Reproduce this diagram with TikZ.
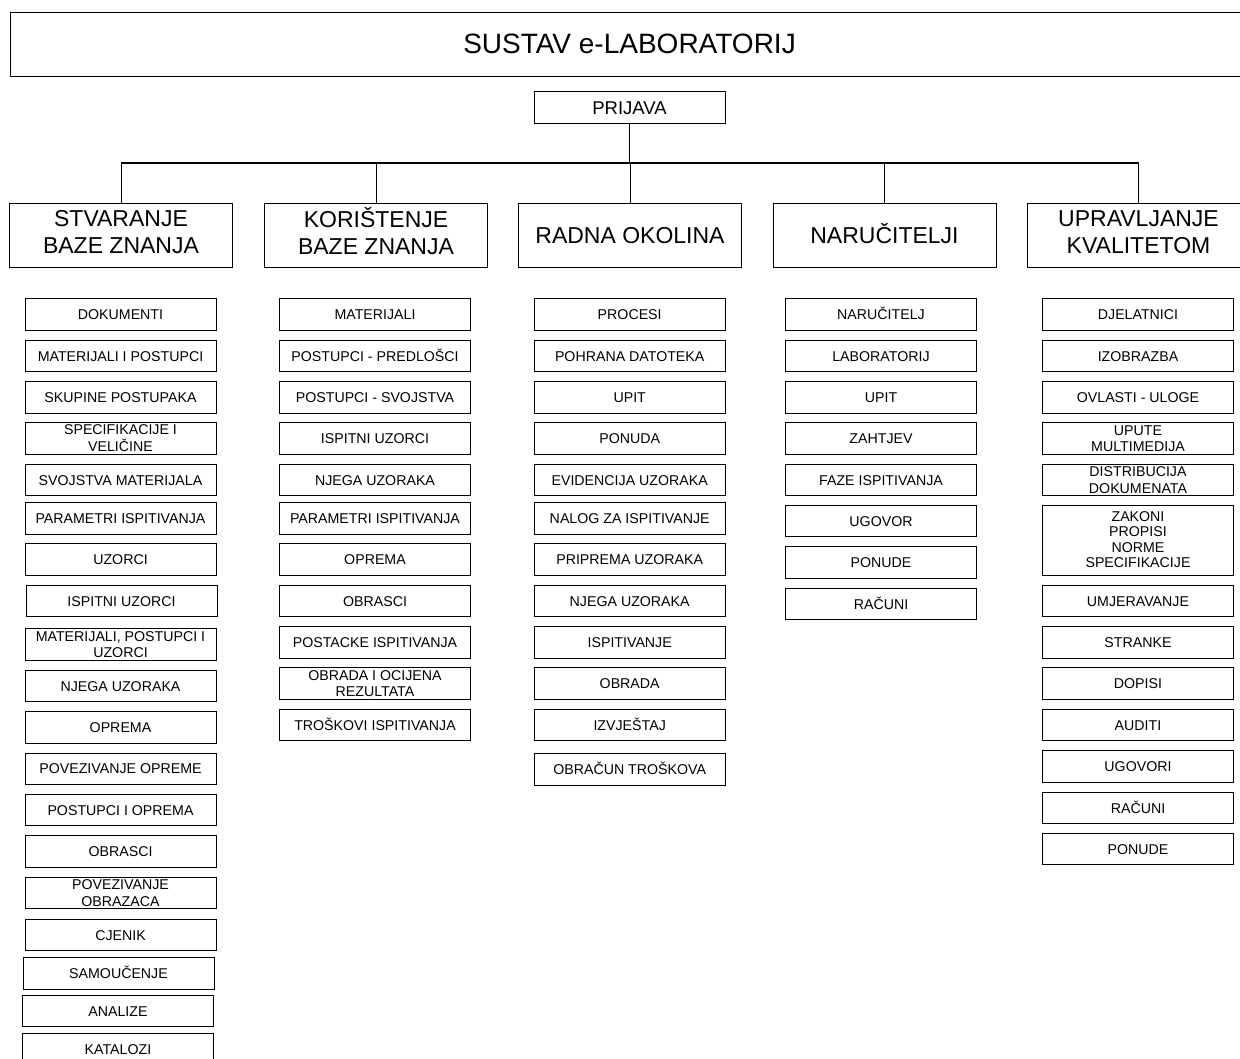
\documentclass[tikz,border=0pt]{standalone}
\usepackage{fontspec}
\setmainfont{Liberation Sans}

\newcommand{\dva}[2]{\begin{tabular}{@{}c@{}}#1\\#2\end{tabular}}

\tikzset{
  item/.style={draw, line width=0.8pt, minimum width=191pt, minimum height=31.5pt,
    inner sep=0pt, text height=10.2pt, text depth=0pt,
    font=\fontsize{14.2}{16.5}\selectfont},
  head/.style={draw, line width=0.8pt, minimum width=223pt, minimum height=64pt,
    inner sep=0pt, text height=16.5pt, text depth=0pt,
    font=\fontsize{23}{27}\selectfont},
  twohead/.style={head, text depth=4.5pt},
  link/.style={line width=0.8pt},
  bar/.style={line width=1.3pt},
  trunk/.style={line width=1.8pt},
}

\begin{document}
\begin{tikzpicture}[x=1pt, y=-1pt]
  \useasboundingbox (0,0) rectangle (1240,1059);

  % Title and login
  \node[draw, line width=0.8pt, minimum width=1239pt, minimum height=64pt, inner sep=0pt,
    font=\fontsize{28}{32}\selectfont] (title) at (629.5,44) {SUSTAV e-LABORATORIJ};
  \node[item, text height=13.3pt, font=\fontsize{18.5}{21}\selectfont] (prijava)
    at (629.5,107.5) {PRIJAVA};

  % Main modules
  \node[twohead] (h1) at (121,235) {\dva{STVARANJE}{BAZE ZNANJA}};
  \node[twohead] (h2) at (376,235) {\dva{KORIŠTENJE}{BAZE ZNANJA}};
  \node[head] (h3) at (630,235) {RADNA OKOLINA};
  \node[head] (h4) at (884.5,235) {NARUČITELJI};
  \node[twohead] (h5) at (1138.5,235) {\dva{UPRAVLJANJE}{KVALITETOM}};

  % Connectors
  \coordinate (bus) at (629.5,163);
  \draw[trunk] (prijava.south) -- (bus);
  \draw[bar] (h1.north |- bus) -- (h5.north |- bus);
  \foreach \i in {1,...,5}
    \draw[link] (h\i.north) -- (h\i.north |- bus);

  % Stvaranje baze znanja
  \foreach \x/\y/\t [count=\i] in {
      120.5/314.5/DOKUMENTI, 120.5/356/MATERIJALI I POSTUPCI,
      120.5/397.5/SKUPINE POSTUPAKA, 120.5/438.5/\dva{SPECIFIKACIJE I}{VELIČINE},
      120.5/480/SVOJSTVA MATERIJALA, 120.5/518.3/PARAMETRI ISPITIVANJA,
      120.5/559.5/UZORCI, 121.5/601/ISPITNI UZORCI,
      120.5/644.5/{\dva{MATERIJALI, POSTUPCI I}{UZORCI}}, 120.5/686/NJEGA UZORAKA,
      120.5/727.5/OPREMA, 120.5/768.7/POVEZIVANJE OPREME,
      120.5/810/POSTUPCI I OPREMA, 120.5/851.5/OBRASCI,
      120.5/893/\dva{POVEZIVANJE}{OBRAZACA}, 120.5/935/CJENIK,
      118.5/973.5/SAMOUČENJE, 118/1011/ANALIZE, 118/1049/KATALOZI}
    \node[item] (s\i) at (\x,\y) {\t};

  % Korištenje baze znanja
  \foreach \y/\t [count=\i] in {
      314.5/MATERIJALI, 356/POSTUPCI - PREDLOŠCI, 397.5/POSTUPCI - SVOJSTVA,
      438.5/ISPITNI UZORCI, 480/NJEGA UZORAKA, 518.3/PARAMETRI ISPITIVANJA,
      559.5/OPREMA, 601/OBRASCI, 642.5/POSTACKE ISPITIVANJA,
      683.5/\dva{OBRADA I OCIJENA}{REZULTATA}, 725/TROŠKOVI ISPITIVANJA}
    \node[item] (k\i) at (375,\y) {\t};

  % Radna okolina
  \foreach \y/\t [count=\i] in {
      314.5/PROCESI, 356/POHRANA DATOTEKA, 397.5/UPIT / ZAHTJEV,
      438.5/PONUDA, 480/EVIDENCIJA UZORAKA, 518.3/NALOG ZA ISPITIVANJE,
      559.5/PRIPREMA UZORAKA, 601/NJEGA UZORAKA, 642.5/ISPITIVANJE,
      683.5/OBRADA, 725/IZVJEŠTAJ, 769.5/OBRAČUN TROŠKOVA}
    \node[item] (r\i) at (629.7,\y) {\t};

  % Naručitelji
  \foreach \y/\t [count=\i] in {
      314.5/NARUČITELJ, 356/LABORATORIJ, 397.5/UPIT, 438.5/ZAHTJEV,
      480/FAZE ISPITIVANJA, 521/UGOVOR, 562.5/PONUDE, 604/RAČUNI}
    \node[item] (n\i) at (881,\y) {\t};

  % Upravljanje kvalitetom
  \foreach \y/\t [count=\i] in {
      314.5/DJELATNICI, 356/IZOBRAZBA, 397.5/OVLASTI - ULOGE,
      438.5/\dva{UPUTE}{MULTIMEDIJA}, 480/\dva{DISTRIBUCIJA}{DOKUMENATA}}
    \node[item] (u\i) at (1138,\y) {\t};
  \node[item, minimum height=70pt, font=\fontsize{14.2}{15.5}\selectfont] (u6)
    at (1138,540) {\begin{tabular}{@{}c@{}}ZAKONI\\PROPISI\\NORME\\SPECIFIKACIJE\end{tabular}};
  \foreach \y/\t [count=\i from 7] in {
      601/UMJERAVANJE, 642.5/STRANKE, 683.5/DOPISI, 725/AUDITI,
      766.5/UGOVORI, 808/RAČUNI, 849/PONUDE}
    \node[item] (u\i) at (1138,\y) {\t};
\end{tikzpicture}
\end{document}
